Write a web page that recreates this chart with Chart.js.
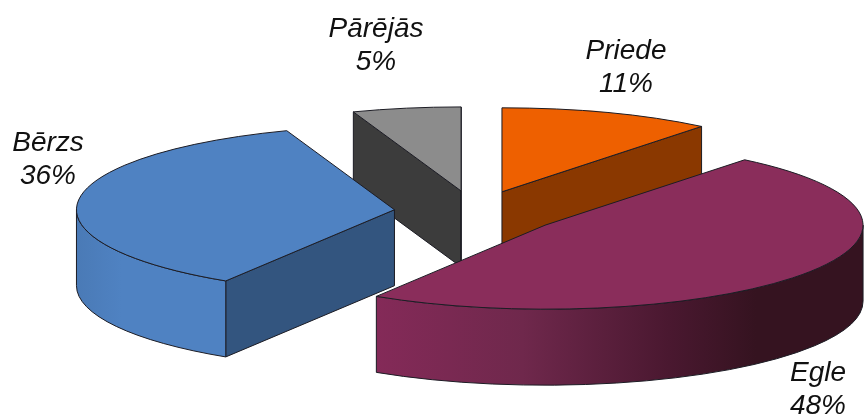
<!DOCTYPE html>
<html>
<head>
<meta charset="utf-8">
<title>Koku sugas</title>
<script src="https://cdn.jsdelivr.net/npm/chart.js@4"></script>
<style>
    html, body { margin: 0; padding: 0; background: #fff; }
    #wrap { width: 864px; height: 416px; }
</style>
</head>
<body>
<div id="wrap"><canvas id="pie"></canvas></div>
<script>
// data (slice sizes, the printed labels are rounded)
const categories = ['Priede', 'Egle', 'Bērzs', 'Pārējās'];
const shares = [10.8, 48.1, 35.6, 5.5];
const shareLabels = ['11%', '48%', '36%', '5%'];

// colours per slice
const topColors = ['#ee6000', '#8a2d5b', '#4f82c2', '#8c8c8c'];
const cutColors = ['#8a3800', '#8a2d5b', '#33557f', '#3c3c3c'];
const wallStops = [
    [[0, '#8a3800'], [1, '#8a3800']],
    [[0, '#842a58'], [0.3, '#6f284c'], [0.6, '#4a1830'], [0.78, '#351320'], [1, '#351320']],
    [[0, '#4a7ab6'], [0.3, '#4f82c2'], [1, '#4f82c2']],
    [[0, '#3c3c3c'], [1, '#3c3c3c']]
];

// label anchors (x, first line y), separate from the data
const labelAnchors = [[626, 51], [818, 373], [48, 143], [376, 29]];

// 3d look
const RX = 318, RY = 84, DEPTH = 76;
const explode = [81, 86, 81, 81];
const paintOrder = [3, 0, 2, 1]; // back to front

const pie3d = {
    id: 'pie3d',
    beforeDatasetsDraw(chart) {
        const ctx = chart.ctx;
        const arcs = chart.getDatasetMeta(0).data;
        paintOrder.forEach(i => drawSlice(ctx, arcs[i], i));
        return false; // flat arcs are replaced by the drawn ones
    },
    afterDraw(chart) {
        const ctx = chart.ctx;
        ctx.save();
        ctx.fillStyle = '#111';
        ctx.font = 'italic 28px "Liberation Sans", Arial, sans-serif';
        ctx.textAlign = 'center';
        ctx.textBaseline = 'middle';
        categories.forEach((name, i) => {
            const [x, y] = labelAnchors[i];
            ctx.fillText(name, x, y);
            ctx.fillText(shareLabels[i], x, y + 33);
        });
        ctx.restore();
    }
};

function drawSlice(ctx, arc, i) {
    const a0 = arc.startAngle, a1 = arc.endAngle;
    const mid = (a0 + a1) / 2;
    const cx = arc.x + Math.cos(mid) * explode[i];
    const cy = arc.y + Math.sin(mid) * explode[i] * RY / RX;
    const px = a => cx + Math.cos(a) * RX;
    const py = a => cy + Math.sin(a) * RY;

    ctx.save();
    ctx.lineJoin = 'round';
    ctx.lineWidth = 1;
    ctx.strokeStyle = '#1c1c24';

    // cut faces that look towards the viewer
    [a0, a1].forEach((a, n) => {
        const facing = n === 0 ? Math.cos(a) < 0 : Math.cos(a) > 0;
        if (!facing) return;
        ctx.beginPath();
        ctx.moveTo(cx, cy);
        ctx.lineTo(px(a), py(a));
        ctx.lineTo(px(a), py(a) + DEPTH);
        ctx.lineTo(cx, cy + DEPTH);
        ctx.closePath();
        ctx.fillStyle = cutColors[i];
        ctx.fill();
        ctx.stroke();
    });

    // outer wall, lower half of the ellipse only (0..PI on canvas)
    const norm = a => { while (a > Math.PI * 1.5) a -= Math.PI * 2; return a; };
    const from = Math.max(norm(a0), 0);
    const to = Math.min(a1 > Math.PI * 1.5 ? Math.PI : a1, Math.PI);
    if (to > from && a0 < Math.PI) {
        const grad = ctx.createLinearGradient(px(to), 0, px(from), 0);
        wallStops[i].forEach(s => grad.addColorStop(s[0], s[1]));
        ctx.beginPath();
        ctx.ellipse(cx, cy, RX, RY, 0, from, to);
        ctx.lineTo(px(to), py(to) + DEPTH);
        ctx.ellipse(cx, cy + DEPTH, RX, RY, 0, to, from, true);
        ctx.closePath();
        ctx.fillStyle = grad;
        ctx.fill();
        ctx.stroke();
    }

    // top face
    ctx.beginPath();
    ctx.moveTo(cx, cy);
    ctx.ellipse(cx, cy, RX, RY, 0, a0, a1);
    ctx.closePath();
    ctx.fillStyle = topColors[i];
    ctx.fill();
    ctx.stroke();
    ctx.restore();
}

new Chart(document.getElementById('pie').getContext('2d'), {
    type: 'pie',
    data: {
        labels: categories,
        datasets: [{ data: shares, backgroundColor: topColors, borderWidth: 0 }]
    },
    options: {
        responsive: true,
        maintainAspectRatio: false,
        animation: false,
        layout: { padding: { left: 86, top: 8 } },
        plugins: { legend: { display: false }, tooltip: { enabled: false } }
    },
    plugins: [pie3d]
});
</script>
</body>
</html>
